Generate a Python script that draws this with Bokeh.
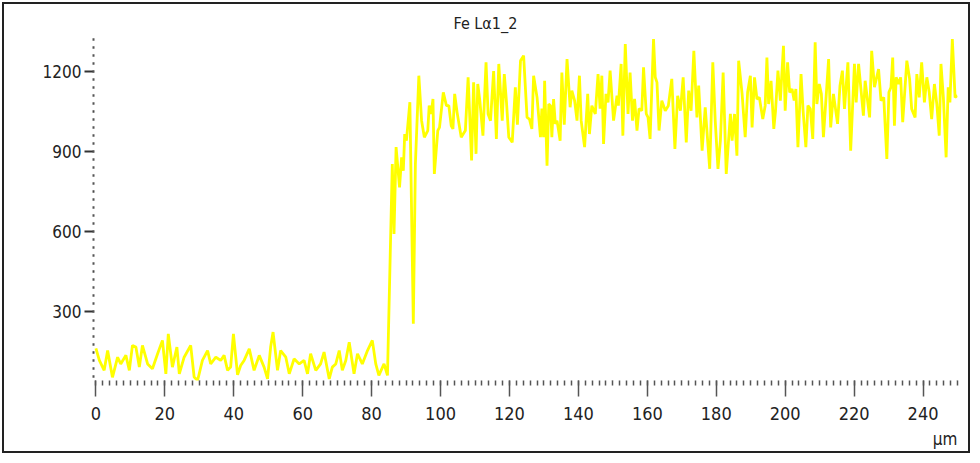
from bokeh.plotting import figure
from bokeh.models import FixedTicker, LinearAxis, Range1d, Title
from bokeh.embed import file_html
from bokeh.resources import INLINE

# ---- data ----
title_text = "Fe Lα1_2"
unit_text = "µm"

x_um = [0.0, 1.0, 2.4, 3.4, 4.8, 6.3, 7.2, 8.7, 9.7, 10.6, 11.6, 12.6, 13.5, 15.0, 16.4, 17.9,
        19.3, 20.3, 21.0, 22.2, 23.5, 24.2, 25.6, 27.5, 28.5, 29.5, 30.9, 32.4, 33.3, 34.8, 36.2,
        37.2, 38.2, 39.1, 39.9, 41.1, 42.0, 43.0, 44.5, 45.9, 47.4, 48.8, 49.8, 50.7, 51.4, 52.7,
        53.6, 55.1, 56.1, 57.5, 59.0, 60.4, 61.4, 62.3, 63.8, 65.2, 66.2, 67.7, 68.6, 69.6, 70.6,
        71.5, 72.5, 73.5, 74.9, 75.9, 77.3, 78.8, 80.2, 81.2, 82.1, 83.6, 84.6,
        86.0, 86.5, 87.1, 88.1, 88.7, 89.2, 89.6, 90.1, 91.1, 92.1, 92.7, 93.7, 94.5, 95.3, 96.3,
        96.7, 97.3, 97.8, 98.2, 99.2, 99.7, 100.8, 101.7, 102.4, 103.1, 103.6, 104.1, 104.8, 106.0,
        107.2, 108.0, 109.0, 109.6, 110.3, 110.8, 111.4, 112.3, 113.2, 113.8, 114.5, 115.4, 116.2,
        116.9, 117.9, 118.5, 119.1, 119.8, 120.8, 121.7, 122.3, 123.2, 124.1, 125.1, 125.8, 126.5,
        127.0, 128.0, 129.0, 129.4, 129.9, 130.2, 130.9, 131.4, 131.9, 132.3, 132.8, 133.3, 133.8,
        134.7, 135.2, 135.9, 136.7, 137.6, 138.1, 138.9, 139.6, 140.3, 140.8, 141.8, 142.7, 143.2,
        143.9, 144.9, 145.7, 146.3, 146.8, 147.3, 148.0, 148.6, 149.2, 150.2, 151.2, 151.6, 152.4,
        152.9, 153.6, 154.4, 155.0, 155.7, 156.3, 157.0, 157.6, 158.4, 158.9, 159.7, 160.2, 160.8,
        161.8, 162.3, 162.8, 163.4, 164.2, 165.2, 166.1, 167.1, 168.0, 168.8, 169.6, 170.4, 171.3,
        172.0, 172.7, 173.5, 174.4, 174.9, 175.9, 176.8, 178.1, 179.0, 179.7, 180.5, 181.2, 182.0,
        182.9, 184.1, 184.6, 185.3, 186.0, 186.5, 187.5, 188.4, 189.1, 189.9, 190.4, 191.1, 191.8,
        192.5, 193.5, 194.2, 194.7, 195.2, 195.9, 196.7, 197.2, 197.9, 198.6, 199.5, 200.0, 200.7,
        201.3, 202.0, 202.6, 203.1, 203.7, 204.6, 205.2, 206.0, 206.6, 207.3, 208.0, 208.7, 209.2,
        209.9, 210.5, 211.1, 212.6, 213.2, 214.0, 215.2, 215.9, 216.6, 217.2, 218.2, 219.0, 220.1,
        220.6, 221.3, 222.7, 223.2, 224.5, 225.1, 225.9, 227.1, 227.8, 228.6, 229.5, 230.1, 230.7,
        231.2, 231.7, 232.2, 232.9, 233.5, 234.1, 235.3, 236.1, 236.7, 237.7, 238.2, 238.9, 239.6,
        240.4, 241.1, 241.8, 242.5, 243.3, 244.0, 244.7, 245.2, 245.9, 246.7, 247.3, 247.8, 248.5,
        249.3, 250.0]

counts = [164, 119, 82, 156, 56, 131, 106, 138, 82, 175, 169, 94, 175, 106, 88, 144,
          194, 69, 218, 94, 169, 69, 131, 175, 57, 44, 119, 156, 106, 131, 119,
          138, 82, 94, 218, 65, 100, 119, 162, 82, 138, 94, 50, 169, 225, 82,
          156, 131, 69, 125, 106, 119, 69, 144, 82, 106, 150, 50, 94, 106, 156,
          82, 119, 187, 69, 144, 106, 156, 194, 106, 63, 106, 63,
          853, 592, 916, 766, 878, 828, 965, 940, 1084, 256, 853, 1183, 1015, 953, 978,
          1071, 1040, 1096, 816, 978, 990, 1121, 1071, 1071, 996, 984, 1115, 1046, 953,
          978, 1177, 866, 1158, 891, 1152, 1090, 959, 1233, 1040, 1015, 1200, 947,
          1227, 1015, 1189, 1090, 953, 934, 1140, 1000, 1239, 1258, 1027, 1021, 984,
          1183, 1102, 953, 1060, 953, 1164, 847, 1077, 1071, 953, 1096, 1003, 1015,
          940, 1195, 1000, 1245, 1065, 1127, 1090, 1015, 1183, 1015, 916, 1115, 965,
          1071, 1040, 1189, 1060, 1183, 928, 1115, 1083, 1202, 1015, 1108, 1071, 1227,
          959, 1301, 1040, 1195, 1015, 1096, 978, 1060, 1052, 1214, 1040, 1027, 947,
          1320, 1177, 1158, 978, 1090, 1052, 1071, 1171, 909, 1108, 1052, 1177, 934,
          1127, 1052, 1276, 1027, 1146, 903, 1065, 835, 1233, 1015, 835, 940, 1195,
          816, 1040, 940, 1040, 884, 1239, 1115, 953, 1121, 1183, 990, 1177, 1096,
          1102, 1021, 1071, 1251, 1077, 1164, 984, 1052, 1202, 1090, 1295, 1052, 1233,
          1121, 1133, 1090, 1133, 916, 1189, 1052, 916, 1071, 1059, 947, 1308, 1077,
          1152, 1115, 953, 1245, 990, 1115, 1003, 1146, 1202, 1059, 1233, 903, 1227,
          1083, 1227, 1034, 1164, 1027, 1276, 1140, 1208, 1090, 1102, 872, 1121, 1140,
          1251, 996, 1177, 1152, 1177, 1009, 1239, 1171, 1059, 1027, 1189, 1102, 1233,
          1083, 1177, 1121, 1021, 1152, 1077, 959, 1227, 1102, 878, 1140, 1083, 1320,
          1102, 1108]

x_major = [0, 20, 40, 60, 80, 100, 120, 140, 160, 180, 200, 220, 240]
x_mid = [10, 30, 50, 70, 90, 110, 130, 150, 170, 190, 210, 230, 250]
x_minor = list(range(0, 252, 2))
y_major = [300, 600, 900, 1200]
y_mid = [150, 450, 750, 1050]
y_minor = list(range(60, 1350, 30))

X_START, X_END = -0.7, 250
Y_START, Y_END = 44, 1322

FONT = "'Liberation Sans Narrow', 'DejaVu Sans Condensed', sans-serif"
TICK = "#555555"
TXT = "#222222"

p = figure(width=972, height=455, output_backend="svg", toolbar_location=None,
           x_range=Range1d(X_START, X_END), y_range=Range1d(Y_START, Y_END),
           min_border_left=93, min_border_right=15, min_border_top=38, min_border_bottom=75)
p.xgrid.visible = False
p.ygrid.visible = False
p.outline_line_color = None
p.background_fill_color = "white"
p.border_fill_color = None
p.styles = {"background-color": "white", "outline": "2px solid #222222",
            "outline-offset": "-4px"}

p.title.text = title_text
p.title.align = "left"
p.title.offset = 360
p.title.text_font = FONT
p.title.text_font_size = "16px"
p.title.text_font_style = "normal"
p.title.text_color = TXT
p.title.standoff = 11

# main x axis
xa = p.xaxis[0]
xa.ticker = FixedTicker(ticks=x_major, minor_ticks=x_minor)
xa.axis_line_color = None
xa.major_tick_in = 0
xa.major_tick_out = 16
xa.major_tick_line_color = TICK
xa.major_tick_line_width = 1.5
xa.minor_tick_in = 0
xa.minor_tick_out = 5
xa.minor_tick_line_color = TICK
xa.minor_tick_line_width = 1.5
xa.major_label_text_font = FONT
xa.major_label_text_font_size = "18px"
xa.major_label_text_color = TXT
xa.major_label_standoff = 10

# medium x ticks
xm = LinearAxis(ticker=FixedTicker(ticks=x_mid, minor_ticks=[]), fixed_location=Y_START,
                axis_line_color=None, major_tick_in=0, major_tick_out=10,
                major_tick_line_color=TICK, major_tick_line_width=1.5,
                minor_tick_line_color=None, major_label_standoff=0,
                major_label_overrides={t: "" for t in x_mid})
p.add_layout(xm, "below")

# main y axis
ya = p.yaxis[0]
ya.ticker = FixedTicker(ticks=y_major, minor_ticks=y_minor)
ya.axis_line_color = None
ya.major_tick_in = 0
ya.major_tick_out = 9
ya.major_tick_line_color = "#333333"
ya.major_tick_line_width = 2
ya.minor_tick_in = 1
ya.minor_tick_out = 1
ya.minor_tick_line_color = TICK
ya.minor_tick_line_width = 2.5
ya.major_label_text_font = FONT
ya.major_label_text_font_size = "17px"
ya.major_label_text_color = TXT
ya.major_label_standoff = 3

ym = LinearAxis(ticker=FixedTicker(ticks=y_mid, minor_ticks=[]), fixed_location=X_START,
                axis_line_color=None, major_tick_in=0, major_tick_out=6,
                major_tick_line_color="#333333", major_tick_line_width=2,
                minor_tick_line_color=None, major_label_standoff=0,
                major_label_overrides={t: "" for t in y_mid})
p.add_layout(ym, "left")

# unit label under the right end of the x axis
p.add_layout(Title(text=unit_text, align="right", text_font=FONT, text_font_size="17px",
                   text_font_style="normal", text_color=TXT, standoff=8), "below")

p.line(x_um, counts, line_color="#FFFF00", line_width=2.8)

open("out.html", "w").write(file_html(p, INLINE))
